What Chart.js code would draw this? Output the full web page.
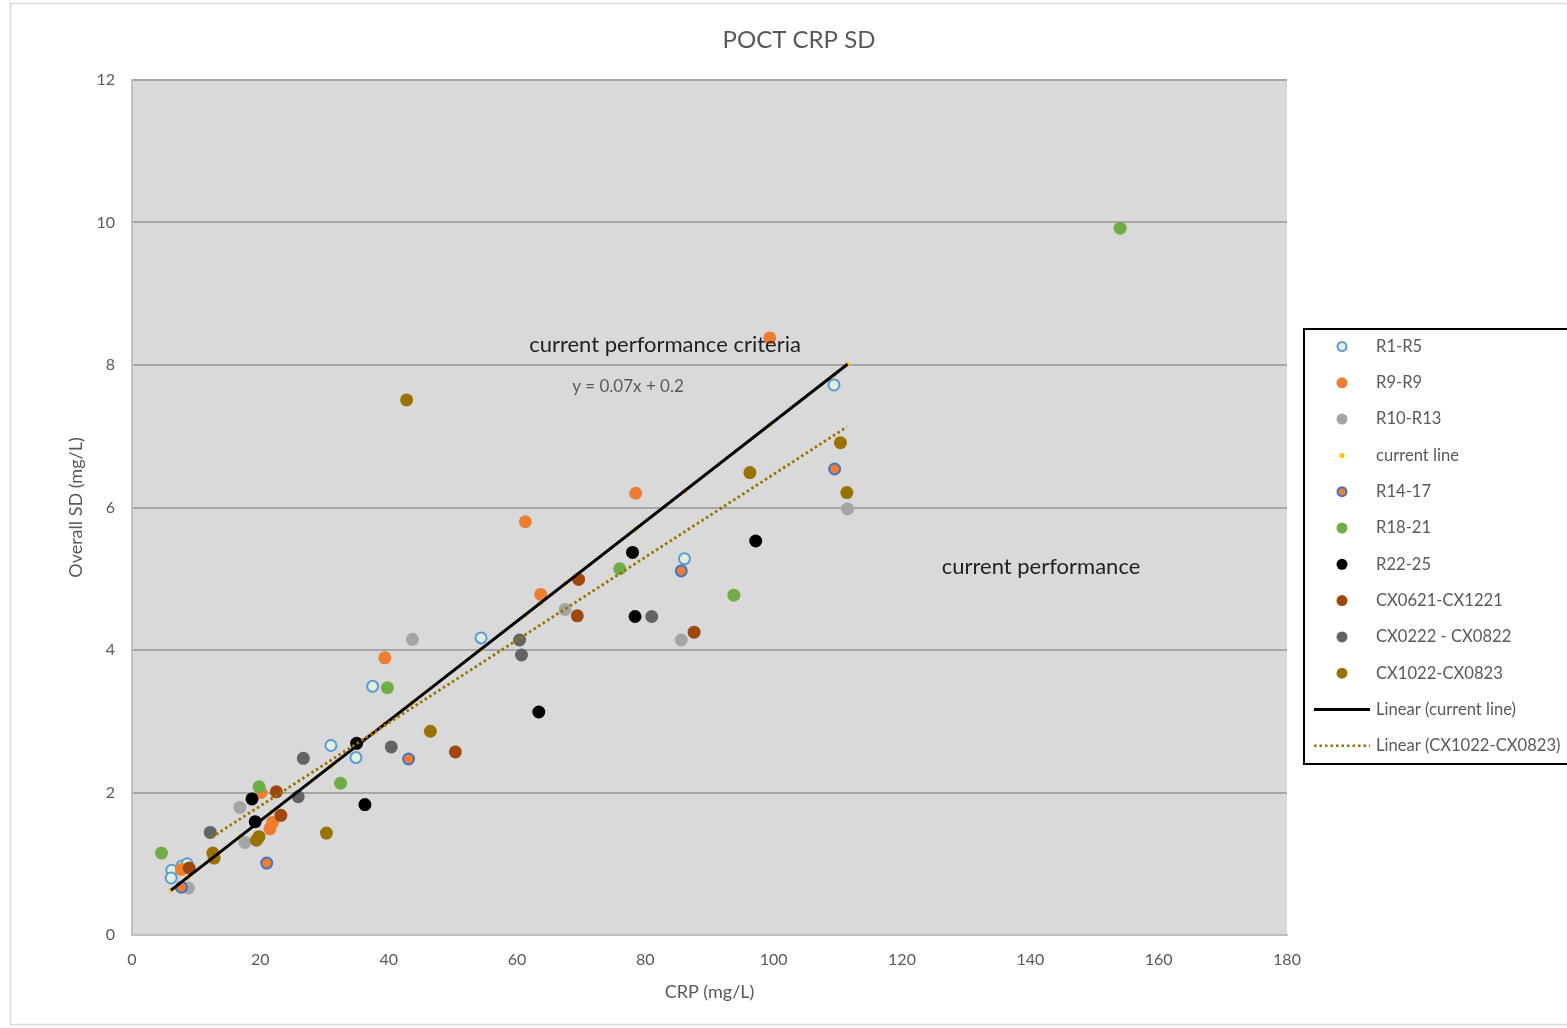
<!DOCTYPE html>
<html><head><meta charset="utf-8">
<script src="https://cdn.jsdelivr.net/npm/chart.js@4.4.0/dist/chart.umd.min.js"></script>
<style>html,body{margin:0;padding:0;background:#fff;overflow:hidden}canvas{display:block}</style>
</head><body>
<canvas id="c" width="1567" height="1028"></canvas>
<script>
// ---- data (CRP mg/L, overall SD mg/L) ----
const r1r5 = [{x:6.2,y:0.91},{x:6.1,y:0.80},{x:7.8,y:0.97},{x:8.6,y:1.00},{x:31.0,y:2.66},{x:34.9,y:2.49},{x:37.5,y:3.49},{x:54.4,y:4.17},{x:86.1,y:5.28},{x:109.4,y:7.72}];
const r9r9 = [{x:7.7,y:0.92},{x:21.5,y:1.49},{x:21.9,y:1.58},{x:20.1,y:2.00},{x:39.4,y:3.89},{x:61.3,y:5.80},{x:63.7,y:4.78},{x:78.5,y:6.20},{x:99.4,y:8.38}];
const r10r13 = [{x:8.8,y:0.66},{x:17.6,y:1.30},{x:16.8,y:1.79},{x:43.7,y:4.15},{x:67.5,y:4.57},{x:85.6,y:4.14},{x:111.5,y:5.98}];
const currentLine = [{x:6.1,y:0.63},{x:8.6,y:0.80},{x:16.8,y:1.38},{x:21.8,y:1.73},{x:31.0,y:2.37},{x:34.9,y:2.64},{x:37.5,y:2.83},{x:39.4,y:2.96},{x:43.7,y:3.26},{x:54.4,y:4.01},{x:61.3,y:4.49},{x:63.7,y:4.66},{x:67.5,y:4.93},{x:78.5,y:5.70},{x:86.1,y:6.23},{x:99.4,y:7.16},{x:109.4,y:7.86},{x:111.5,y:8.01}];
const r14r17 = [{x:7.7,y:0.67},{x:21.0,y:1.01},{x:43.1,y:2.47},{x:85.6,y:5.11},{x:109.5,y:6.54}];
const r18r21 = [{x:4.6,y:1.15},{x:19.8,y:2.08},{x:32.5,y:2.13},{x:39.8,y:3.47},{x:76.0,y:5.14},{x:93.8,y:4.77},{x:154.0,y:9.92}];
const r22r25 = [{x:18.7,y:1.91},{x:19.2,y:1.59},{x:35.0,y:2.69},{x:36.3,y:1.83},{x:63.4,y:3.13},{x:78.0,y:5.37},{x:78.4,y:4.47},{x:97.2,y:5.53}];
const cx0621 = [{x:8.9,y:0.94},{x:22.5,y:2.01},{x:23.2,y:1.68},{x:50.4,y:2.57},{x:69.6,y:4.99},{x:69.4,y:4.48},{x:87.6,y:4.25}];
const cx0222 = [{x:12.2,y:1.44},{x:25.9,y:1.94},{x:26.7,y:2.48},{x:40.4,y:2.64},{x:60.4,y:4.14},{x:60.7,y:3.93},{x:81.0,y:4.47}];
const cx1022 = [{x:12.6,y:1.15},{x:12.8,y:1.08},{x:19.4,y:1.33},{x:19.8,y:1.38},{x:30.3,y:1.43},{x:42.8,y:7.51},{x:46.5,y:2.86},{x:96.3,y:6.49},{x:110.4,y:6.91},{x:111.4,y:6.21}];
const trendCurrent = [{x:6.1,y:0.63},{x:111.5,y:8.01}];
const trendCx1022 = [{x:12.4,y:1.37},{x:111.4,y:7.13}];
const xRange = [0, 180], xStep = 20;
const yRange = [0, 12], yStep = 2;

const FONT = "Lato, 'Open Sans', sans-serif";
const TXT = '#595959';

const seriesDefs = [
  {label:'R1-R5', data:r1r5, bg:'#e2efda', bd:'#5b9bd5', bw:2, r:5.5, lr:4.5},
  {label:'R9-R9', data:r9r9, bg:'#ed7d31', bd:'#ed7d31', bw:0, r:6.5, lr:5.5},
  {label:'R10-R13', data:r10r13, bg:'#a5a5a5', bd:'#a5a5a5', bw:0, r:6.5, lr:5.5},
  {label:'current line', data:currentLine, bg:'#ffc000', bd:'#ffc000', bw:0, r:2.5, lr:2.5},
  {label:'R14-17', data:r14r17, bg:'#ed7d31', bd:'#4472c4', bw:2, r:5.5, lr:4.5},
  {label:'R18-21', data:r18r21, bg:'#70ad47', bd:'#70ad47', bw:0, r:6.5, lr:5.5},
  {label:'R22-25', data:r22r25, bg:'#000000', bd:'#000000', bw:0, r:6.5, lr:5.5},
  {label:'CX0621-CX1221', data:cx0621, bg:'#9e480e', bd:'#9e480e', bw:0, r:6.5, lr:5.5},
  {label:'CX0222 - CX0822', data:cx0222, bg:'#636363', bd:'#636363', bw:0, r:6.5, lr:5.5},
  {label:'CX1022-CX0823', data:cx1022, bg:'#997300', bd:'#997300', bw:0, r:6.5, lr:5.5}
];

const datasets = seriesDefs.map((s,i)=>({
  label:s.label, data:s.data, backgroundColor:s.bg, borderColor:s.bd,
  pointRadius:s.r, pointBorderWidth:s.bw, pointHoverRadius:s.r, showLine:false,
  order: 20 - i
}));
datasets.push({label:'Linear (current line)', data:trendCurrent, showLine:true, borderColor:'#000', borderWidth:3, pointRadius:0, order:1});
datasets.push({label:'Linear (CX1022-CX0823)', data:trendCx1022, showLine:true, borderColor:'#997300', borderWidth:2.8, borderDash:[2.6,2.8], pointRadius:0, order:0});

const decor = {
  id:'decor',
  beforeDraw(chart){
    const {ctx, chartArea:a} = chart;
    ctx.save();
    ctx.fillStyle='#fff'; ctx.fillRect(0,0,chart.width,chart.height);
    ctx.strokeStyle='#d9d9d9'; ctx.lineWidth=1.5;
    ctx.strokeRect(10.5,3.5,1700,1021);
    ctx.fillStyle='#d9d9d9';
    ctx.fillRect(a.left,a.top,a.right-a.left,a.bottom-a.top);
    ctx.restore();
  },
  afterDraw(chart){
    const {ctx} = chart;
    ctx.save();
    ctx.textBaseline='middle';
    // title
    ctx.fillStyle=TXT; ctx.textAlign='center';
    ctx.font=`24px ${FONT}`;
    ctx.fillText('POCT CRP SD', 799, 40);
    // annotations
    ctx.fillStyle='#1f1f1f'; ctx.font=`22px ${FONT}`;
    ctx.fillText('current performance criteria', 665, 345);
    ctx.fillText('current performance', 1041, 567);
    ctx.fillStyle=TXT; ctx.font=`17px ${FONT}`;
    ctx.fillText('y = 0.07x + 0.2', 628, 387);
    // legend
    ctx.strokeStyle='#000'; ctx.lineWidth=2;
    ctx.fillStyle='#fff';
    ctx.fillRect(1304,329,400,435);
    ctx.strokeRect(1304,329,400,435);
    ctx.textAlign='left'; ctx.font=`16.6px ${FONT}`;
    const y0=346.5, dy=36.3, mx=1342, tx=1376;
    seriesDefs.forEach((s,i)=>{
      const yy=y0+i*dy;
      ctx.beginPath(); ctx.arc(mx,yy,s.lr,0,Math.PI*2);
      ctx.fillStyle=s.bg; ctx.fill();
      if(s.bw){ctx.lineWidth=s.bw; ctx.strokeStyle=s.bd; ctx.stroke();}
      ctx.fillStyle=TXT; ctx.fillText(s.label,tx,yy);
    });
    let yy=y0+10*dy;
    ctx.setLineDash([]); ctx.strokeStyle='#000'; ctx.lineWidth=3;
    ctx.beginPath(); ctx.moveTo(1314,yy); ctx.lineTo(1370,yy); ctx.stroke();
    ctx.fillStyle=TXT; ctx.fillText('Linear (current line)',tx,yy);
    yy=y0+11*dy;
    ctx.setLineDash([2.5,3]); ctx.strokeStyle='#997300'; ctx.lineWidth=2.5;
    ctx.beginPath(); ctx.moveTo(1314,yy); ctx.lineTo(1370,yy); ctx.stroke();
    ctx.setLineDash([]);
    ctx.fillStyle=TXT; ctx.fillText('Linear (CX1022-CX0823)',tx,yy);
    ctx.restore();
  }
};

function make(){
  Chart.defaults.font.family = FONT;
  Chart.defaults.color = TXT;
  new Chart(document.getElementById('c'), {
    type:'scatter',
    data:{datasets},
    options:{
      responsive:false, animation:false, events:[],
      layout:{padding:{left:0,top:80,right:280,bottom:0}},
      plugins:{legend:{display:false}, tooltip:{enabled:false}, title:{display:false}},
      scales:{
        x:{type:'linear', min:xRange[0], max:xRange[1],
           ticks:{stepSize:xStep, padding:15, maxRotation:0, font:{size:16}, color:TXT},
           grid:{display:false, drawTicks:false},
           border:{display:true, color:'#bfbfbf', width:2},
           title:{display:true, text:'CRP (mg/L)', font:{size:18}, color:TXT, padding:{top:0,bottom:25}},
           afterFit(s){ s.height = 93; }
        },
        y:{type:'linear', min:yRange[0], max:yRange[1],
           ticks:{stepSize:yStep, padding:17, font:{size:16}, color:TXT},
           grid:{color:'#a6a6a6', lineWidth:2, drawTicks:false},
           border:{display:true, color:'#bfbfbf', width:2},
           title:{display:true, text:'Overall SD (mg/L)', font:{size:18}, color:TXT, padding:{top:65,bottom:0}},
           afterFit(s){ s.width = 132; }
        }
      }
    },
    plugins:[decor]
  });
}
if (document.fonts && document.fonts.load) {
  Promise.all([document.fonts.load(`16px Lato`), document.fonts.load(`24px Lato`)]).then(make, make);
} else make();
</script>
</body></html>
